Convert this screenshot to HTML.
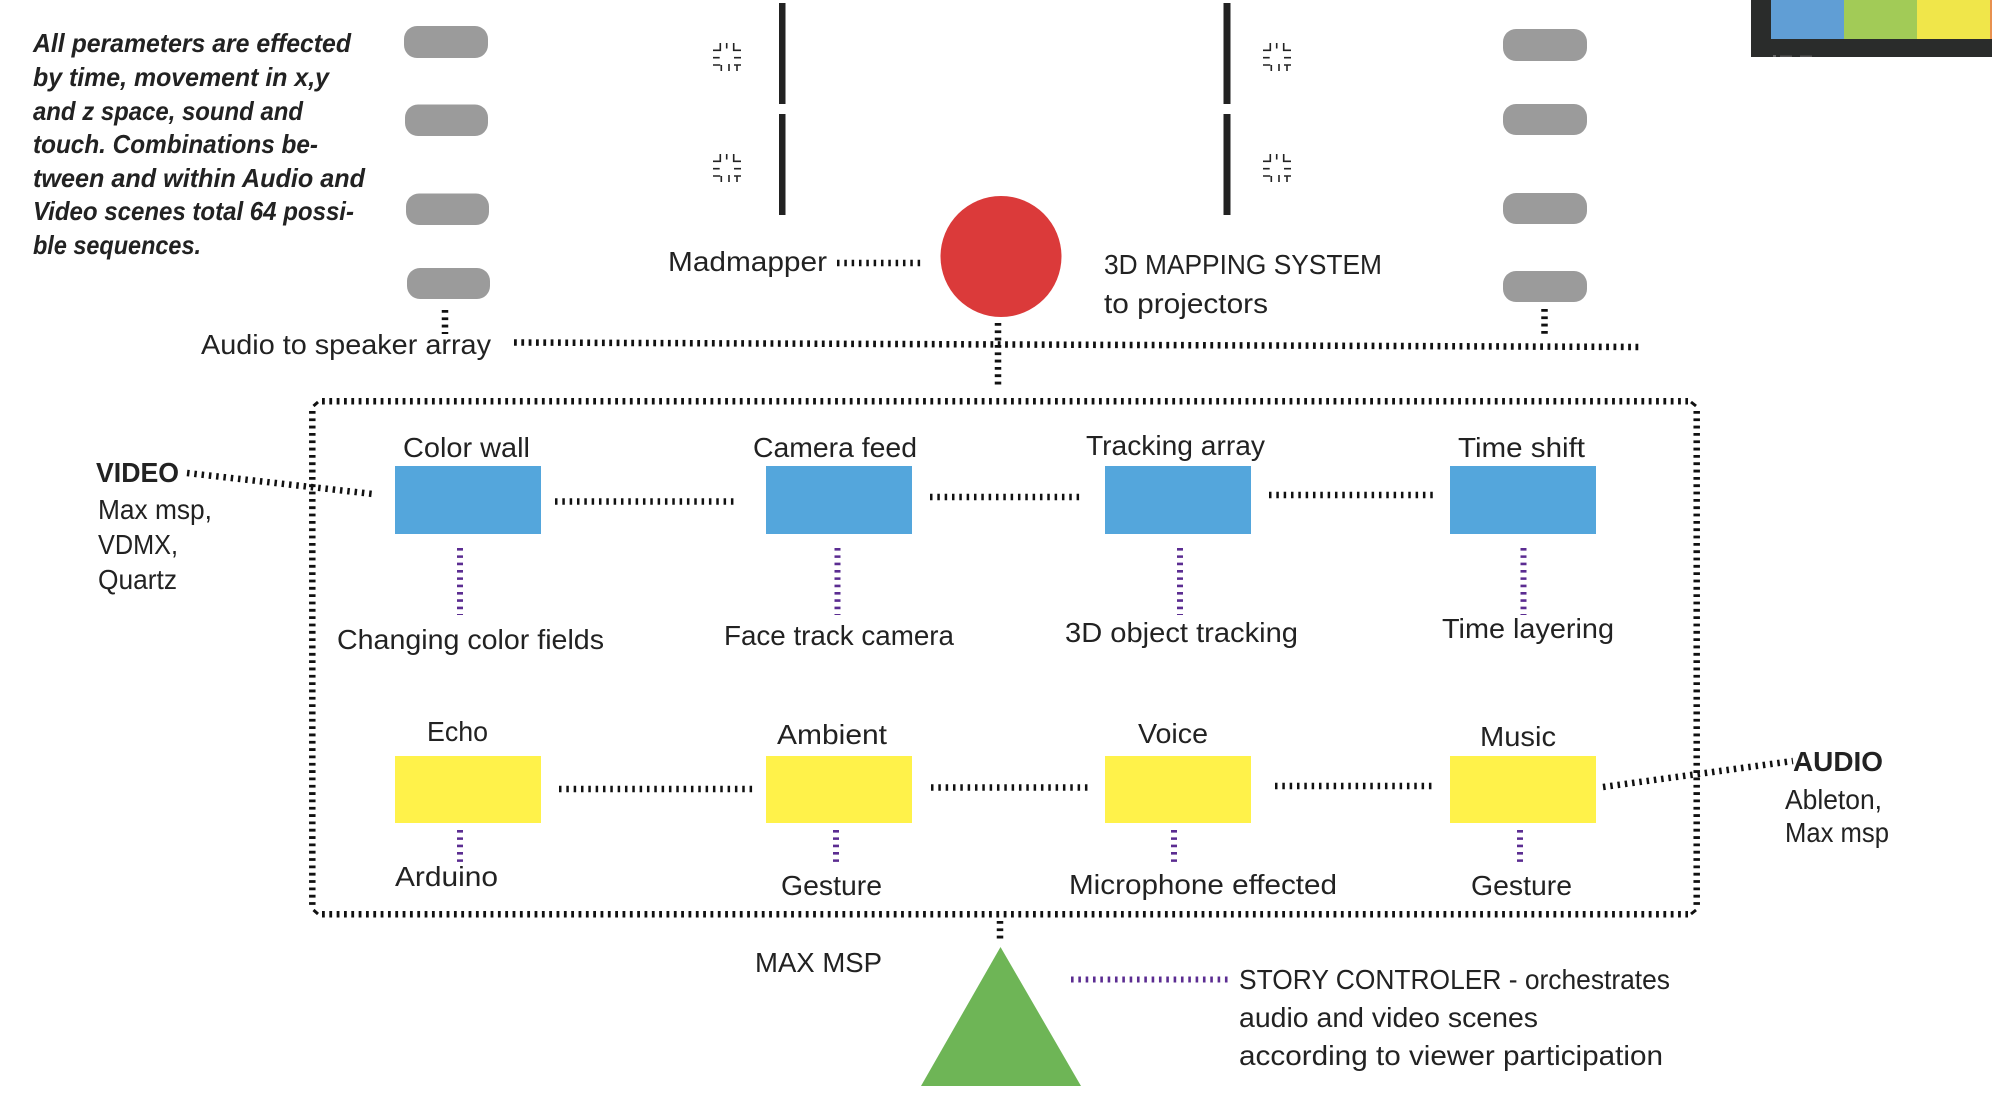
<!DOCTYPE html>
<html>
<head>
<meta charset="utf-8">
<style>
html,body{margin:0;padding:0;background:#fff;}
svg{display:block;}
text{font-family:"Liberation Sans",sans-serif;fill:#222;font-size:28px;}
.i{font-weight:bold;font-style:italic;font-size:26px;}
.b{font-weight:bold;}
.h{fill:none;stroke:#111;stroke-width:6.5;stroke-dasharray:2.8 4.53;}
.v{fill:none;stroke:#111;stroke-width:6.5;stroke-dasharray:2.8 4.53;}
.t{fill:none;stroke:#111;stroke-width:6.500;stroke-dasharray:2.5 4.83;}
.p{fill:none;stroke:#5b2c91;stroke-width:6;stroke-dasharray:2.6 4.73;}
.g{fill:#9b9b9b;}
.bl{fill:#54a6dc;}
.y{fill:#fff24a;}
.ic{fill:none;stroke:#222;stroke-width:1.6;}
</style>
</head>
<body>
<svg width="1992" height="1114" viewBox="0 0 1992 1114" xmlns="http://www.w3.org/2000/svg">
<rect width="1992" height="1114" fill="#fff"/>

<!-- top-right palette -->
<rect x="1751" y="0" width="241" height="57" fill="#2a2c2b"/>
<rect x="1771" y="0" width="73" height="39" fill="#609ed5"/>
<rect x="1844" y="0" width="73" height="39" fill="#a2cb57"/>
<rect x="1917" y="0" width="73" height="39" fill="#f0e64a"/>
<rect x="1990" y="0" width="2" height="39" fill="#e8904f"/>
<rect x="1773" y="55" width="3" height="2" fill="#666"/>
<rect x="1780" y="55.500" width="12" height="1.500" fill="#555"/>
<rect x="1800" y="55.500" width="12" height="1.500" fill="#555"/>

<!-- italic note -->
<text class="i" x="33" y="52" textLength="318" lengthAdjust="spacingAndGlyphs">All perameters are effected</text>
<text class="i" x="33" y="86" textLength="296" lengthAdjust="spacingAndGlyphs">by time, movement in x,y</text>
<text class="i" x="33" y="120" textLength="270" lengthAdjust="spacingAndGlyphs">and z space, sound and</text>
<text class="i" x="33" y="153" textLength="285" lengthAdjust="spacingAndGlyphs">touch. Combinations be-</text>
<text class="i" x="33" y="187" textLength="332" lengthAdjust="spacingAndGlyphs">tween and within Audio and</text>
<text class="i" x="33" y="220" textLength="321" lengthAdjust="spacingAndGlyphs">Video scenes total 64 possi-</text>
<text class="i" x="33" y="254" textLength="168" lengthAdjust="spacingAndGlyphs">ble sequences.</text>

<!-- left pills -->
<rect class="g" x="404" y="26" width="84" height="32" rx="13"/>
<rect class="g" x="405" y="104.500" width="83" height="31.500" rx="13"/>
<rect class="g" x="406" y="193.500" width="83" height="31.500" rx="13"/>
<rect class="g" x="407" y="268" width="83" height="31" rx="13"/>
<line class="v" x1="445" y1="310" x2="445" y2="334"/>

<!-- right pills -->
<rect class="g" x="1503" y="29" width="84" height="32" rx="13"/>
<rect class="g" x="1503" y="104" width="84" height="31" rx="13"/>
<rect class="g" x="1503" y="193" width="84" height="31" rx="13"/>
<rect class="g" x="1503" y="271" width="84" height="31" rx="13"/>
<line class="v" x1="1544.500" y1="309" x2="1544.500" y2="334"/>

<!-- black bars -->
<rect x="779" y="3" width="6.500" height="101" fill="#222"/>
<rect x="779" y="114" width="6.500" height="101" fill="#222"/>
<rect x="1223.500" y="3" width="7" height="101" fill="#222"/>
<rect x="1223.500" y="114" width="7" height="101" fill="#222"/>

<!-- small icons -->
<defs>
<g id="icn">
<path class="ic" d="M0 7.300H7.300V0M13.700 0V5.500M20.700 0V7.300H28M0 14.700H6.700M21 14.700H28M0 22H7.300M8.300 22V28M16 21V28M21 22H28M24 22V28"/>
</g>
</defs>
<use href="#icn" x="713" y="43"/>
<use href="#icn" x="713" y="154"/>
<use href="#icn" x="1263" y="43"/>
<use href="#icn" x="1263" y="154"/>

<!-- red circle -->
<circle cx="1001" cy="256.500" r="60.500" fill="#db3a3a"/>

<text x="668" y="271" textLength="159" lengthAdjust="spacingAndGlyphs">Madmapper</text>
<line class="t" x1="837" y1="263" x2="922" y2="263"/>
<text x="1104" y="274" textLength="278" lengthAdjust="spacingAndGlyphs">3D MAPPING SYSTEM</text>
<text x="1104" y="313" textLength="164" lengthAdjust="spacingAndGlyphs">to projectors</text>
<text x="201" y="354" textLength="290" lengthAdjust="spacingAndGlyphs">Audio to speaker array</text>

<line class="h" x1="514" y1="342.500" x2="1642" y2="347"/>
<line class="v" x1="998" y1="323" x2="998" y2="386"/>

<!-- dotted container -->
<line class="h" x1="322" y1="401.300" x2="1688" y2="401.300"/>
<line class="h" x1="322" y1="914.300" x2="1688" y2="914.300"/>
<line class="v" x1="312.300" y1="411" x2="312.300" y2="905"/>
<line class="v" x1="1696.700" y1="411" x2="1696.700" y2="905"/>
<path d="M313.500 406L318 402M1696 406L1691 402M313.500 910L318 914M1696 910L1691 914" stroke="#111" stroke-width="3" fill="none"/>

<!-- video -->
<text class="b" x="96" y="482" textLength="83" lengthAdjust="spacingAndGlyphs">VIDEO</text>
<text x="98" y="519" textLength="114" lengthAdjust="spacingAndGlyphs">Max msp,</text>
<text x="98" y="554" textLength="80" lengthAdjust="spacingAndGlyphs">VDMX,</text>
<text x="98" y="589" textLength="79" lengthAdjust="spacingAndGlyphs">Quartz</text>
<line class="t" x1="187" y1="473" x2="373" y2="494"/>

<!-- blue row -->
<rect class="bl" x="395" y="466" width="146" height="68"/>
<rect class="bl" x="766" y="466" width="146" height="68"/>
<rect class="bl" x="1105" y="466" width="146" height="68"/>
<rect class="bl" x="1450" y="466" width="146" height="68"/>
<text x="403" y="457" textLength="127" lengthAdjust="spacingAndGlyphs">Color wall</text>
<text x="753" y="457" textLength="164" lengthAdjust="spacingAndGlyphs">Camera feed</text>
<text x="1086" y="455" textLength="179" lengthAdjust="spacingAndGlyphs">Tracking array</text>
<text x="1458" y="457" textLength="127" lengthAdjust="spacingAndGlyphs">Time shift</text>
<line class="t" x1="555" y1="501.500" x2="735" y2="501.500"/>
<line class="t" x1="930" y1="497" x2="1081" y2="497"/>
<line class="t" x1="1269" y1="495" x2="1434" y2="495"/>
<line class="p" x1="460" y1="548" x2="460" y2="615"/>
<line class="p" x1="837.500" y1="548" x2="837.500" y2="615"/>
<line class="p" x1="1180" y1="548" x2="1180" y2="615"/>
<line class="p" x1="1523.500" y1="548" x2="1523.500" y2="615"/>
<text x="337" y="649" textLength="267" lengthAdjust="spacingAndGlyphs">Changing color fields</text>
<text x="724" y="645" textLength="230" lengthAdjust="spacingAndGlyphs">Face track camera</text>
<text x="1065" y="642" textLength="233" lengthAdjust="spacingAndGlyphs">3D object tracking</text>
<text x="1442" y="638" textLength="172" lengthAdjust="spacingAndGlyphs">Time layering</text>

<!-- yellow row -->
<rect class="y" x="395" y="756" width="146" height="67"/>
<rect class="y" x="766" y="756" width="146" height="67"/>
<rect class="y" x="1105" y="756" width="146" height="67"/>
<rect class="y" x="1450" y="756" width="146" height="67"/>
<text x="427" y="741" textLength="61" lengthAdjust="spacingAndGlyphs">Echo</text>
<text x="777" y="744" textLength="110" lengthAdjust="spacingAndGlyphs">Ambient</text>
<text x="1138" y="743" textLength="70" lengthAdjust="spacingAndGlyphs">Voice</text>
<text x="1480" y="746" textLength="76" lengthAdjust="spacingAndGlyphs">Music</text>
<line class="t" x1="559" y1="789" x2="755" y2="789"/>
<line class="t" x1="931" y1="787.500" x2="1090" y2="787.500"/>
<line class="t" x1="1275" y1="786" x2="1433" y2="786"/>
<line class="p" x1="460" y1="830" x2="460" y2="864"/>
<line class="p" x1="836" y1="830" x2="836" y2="864"/>
<line class="p" x1="1174" y1="830" x2="1174" y2="864"/>
<line class="p" x1="1520" y1="830" x2="1520" y2="864"/>
<text x="395" y="886" textLength="103" lengthAdjust="spacingAndGlyphs">Arduino</text>
<text x="781" y="895" textLength="101" lengthAdjust="spacingAndGlyphs">Gesture</text>
<text x="1069" y="894" textLength="268" lengthAdjust="spacingAndGlyphs">Microphone effected</text>
<text x="1471" y="895" textLength="101" lengthAdjust="spacingAndGlyphs">Gesture</text>

<!-- audio -->
<line class="t" x1="1603" y1="787" x2="1793" y2="761"/>
<text class="b" x="1793" y="771" textLength="90" lengthAdjust="spacingAndGlyphs">AUDIO</text>
<text x="1785" y="809" textLength="97" lengthAdjust="spacingAndGlyphs">Ableton,</text>
<text x="1785" y="842" textLength="104" lengthAdjust="spacingAndGlyphs">Max msp</text>

<!-- triangle -->
<line class="v" x1="1000" y1="921" x2="1000" y2="939"/>
<polygon points="1000.500,947 1081,1086 921,1086" fill="#6eb556"/>
<text x="755" y="972" textLength="127" lengthAdjust="spacingAndGlyphs">MAX MSP</text>
<line class="p" x1="1071" y1="979.500" x2="1228" y2="979.500"/>
<text x="1239" y="989" textLength="431" lengthAdjust="spacingAndGlyphs">STORY CONTROLER - orchestrates</text>
<text x="1239" y="1027" textLength="299" lengthAdjust="spacingAndGlyphs">audio and video scenes</text>
<text x="1239" y="1065" textLength="424" lengthAdjust="spacingAndGlyphs">according to viewer participation</text>
</svg>
</body>
</html>
